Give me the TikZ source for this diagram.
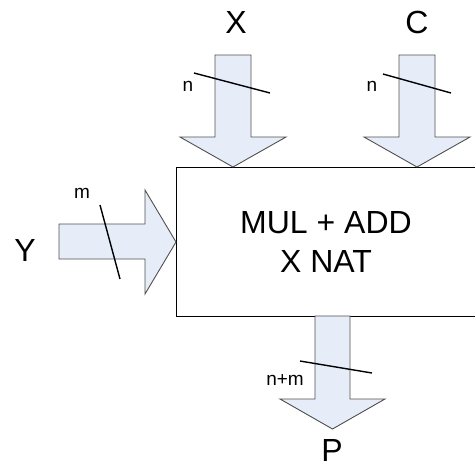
\documentclass[tikz,border=0pt]{standalone}
\usepackage{fontspec}
\setmainfont{Liberation Sans}
\usetikzlibrary{positioning}

\definecolor{busfill}{RGB}{230,237,248}
\definecolor{busline}{RGB}{80,80,80}

\tikzset{
	bus/.style={fill=busfill, draw=busline, line width=0.9pt, line join=miter},
	slash/.style={draw=black, line width=1.4pt},
	biglabel/.style={font=\fontsize{32}{35}\selectfont, inner sep=0pt},
	smalllabel/.style={font=\fontsize{19}{21}\selectfont, inner sep=0pt}
}

\begin{document}
\begin{tikzpicture}[x=1pt,y=-1pt]
	\useasboundingbox (0,0) rectangle (475,464);
	
	% main block
	\node[draw=black, line width=1.1pt, minimum width=300pt, minimum height=149pt,
		inner sep=0pt, anchor=north west] (core) at (176,167) {};
	\node[biglabel, align=center] (func) at (326,242)
		{MUL + ADD\\[4pt]X NAT};
	
	% inputs from the top
	\draw[bus] (215,55) -- (251,55) -- (251,137) -- (286,137) -- (233,167)
		-- (180,137) -- (215,137) -- cycle;
	\draw[bus] (399,55) -- (435,55) -- (435,137) -- (470,137) -- (417,167)
		-- (364,137) -- (399,137) -- cycle;
	% input from the left
	\draw[bus] (59,224) -- (145,224) -- (145,190) -- (176,242) -- (145,294)
		-- (145,259) -- (59,259) -- cycle;
	% output
	\draw[bus] (315,316) -- (350,316) -- (350,399) -- (385,399) -- (332.5,429)
		-- (280,399) -- (315,399) -- cycle;
	
	% bus widths
	\coordinate (xs1) at (194,73);  \coordinate (xs2) at (270,93);
	\coordinate (cs1) at (383,74);  \coordinate (cs2) at (451,93);
	\coordinate (ys1) at (100,205); \coordinate (ys2) at (120,279);
	\coordinate (ps1) at (300,361); \coordinate (ps2) at (372,373);
	\draw[slash] (xs1) -- (xs2);
	\draw[slash] (cs1) -- (cs2);
	\draw[slash] (ys1) -- (ys2);
	\draw[slash] (ps1) -- (ps2);
	
	\node[smalllabel] (nx) at (188,86) {n};
	\node[smalllabel] (nc) at (372,86) {n};
	\node[smalllabel] (my) at (82,193) {m};
	\node[smalllabel] (np) at (285,380) {n+m};
	
	% port names
	\node[biglabel] (xin) at (236,22) {X};
	\node[biglabel] (cin) at (417,22) {C};
	\node[biglabel] (yin) at (25,250) {Y};
	\node[biglabel] (pout) at (332,450) {P};
\end{tikzpicture}
\end{document}
